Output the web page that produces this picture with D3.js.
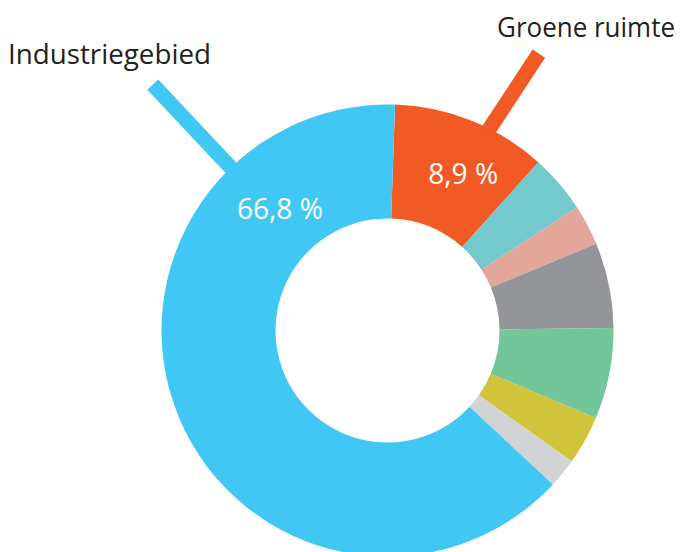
<!DOCTYPE html>
<html lang="nl">
<head>
<meta charset="UTF-8">
<title>Grondgebruik - ringdiagram</title>
<script src="https://d3js.org/d3.v7.min.js"></script>
<style>
  body { margin: 0; background: white; }
  svg { display: block; font-family: "Open Sans", sans-serif; }
</style>
</head>
<body>
<svg id="chart" width="685" height="552"></svg>
<script>
// slices clockwise from the top, share of the ring
const categories = ["Groene ruimte", "overig 1", "overig 2", "overig 3", "overig 4", "overig 5", "overig 6", "Industriegebied"];
const shares = [11.1, 4.2, 2.9, 6.1, 6.5, 3.5, 2.1, 63.6];
const colors = ["#f15a24", "#74c9cc", "#e2a69a", "#939598", "#72c69a", "#d0c43a", "#d1d3d4", "#41c7f3"];

// labelled slices
const calloutIndex = [0, 7];
const calloutNames = ["Groene ruimte", "Industriegebied"];
const calloutPercents = ["8,9 %", "66,8 %"];

const svg = d3.select("#chart");
const cx = 387.5, cy = 330.5;
const rOuter = 226, rInner = 112;
const rad = d => d * Math.PI / 180;

const g = svg.append("g").attr("transform", `translate(${cx},${cy})`);

const start = rad(1.9);
const pie = d3.pie().sort(null).value(d => d).startAngle(start).endAngle(start + 2 * Math.PI);
const arc = d3.arc().innerRadius(rInner).outerRadius(rOuter);
const arcs = pie(shares);

g.selectAll("path.slice")
  .data(arcs)
  .enter()
  .append("path")
  .attr("class", "slice")
  .attr("d", arc)
  .attr("fill", (d, i) => colors[i]);

// leader bars: where they leave the ring, their direction and length
const leaders = [
  { at: 26.7, dir: 33.3, len: 90 },
  { at: -43.9, dir: -43.2, len: 114 }
];
const nameSpots = [
  { x: 497, y: 37, w: 178 },
  { x: 8, y: 64, w: 203 }
];
const pctSpots = [
  { a: 25.8, r: 174, w: 70 },
  { a: -41.3, r: 163, w: 86 }
];

calloutIndex.forEach((idx, k) => {
  const L = leaders[k];
  const x0 = (rOuter - 4) * Math.sin(rad(L.at));
  const y0 = -(rOuter - 4) * Math.cos(rad(L.at));
  const x1 = x0 + (L.len + 4) * Math.sin(rad(L.dir));
  const y1 = y0 - (L.len + 4) * Math.cos(rad(L.dir));
  g.append("line")
    .attr("x1", x0).attr("y1", y0)
    .attr("x2", x1).attr("y2", y1)
    .attr("stroke", colors[idx])
    .attr("stroke-width", 15);

  const n = nameSpots[k];
  svg.append("text")
    .attr("x", n.x).attr("y", n.y)
    .attr("textLength", n.w)
    .attr("lengthAdjust", "spacingAndGlyphs")
    .style("font-size", "27px")
    .attr("fill", "#231f20")
    .text(calloutNames[k]);

  const p = pctSpots[k];
  g.append("text")
    .attr("x", p.r * Math.sin(rad(p.a)))
    .attr("y", -p.r * Math.cos(rad(p.a)) + 10.5)
    .attr("text-anchor", "middle")
    .attr("textLength", p.w)
    .attr("lengthAdjust", "spacingAndGlyphs")
    .style("font-size", "29px")
    .attr("fill", "white")
    .text(calloutPercents[k]);
});
</script>
</body>
</html>
